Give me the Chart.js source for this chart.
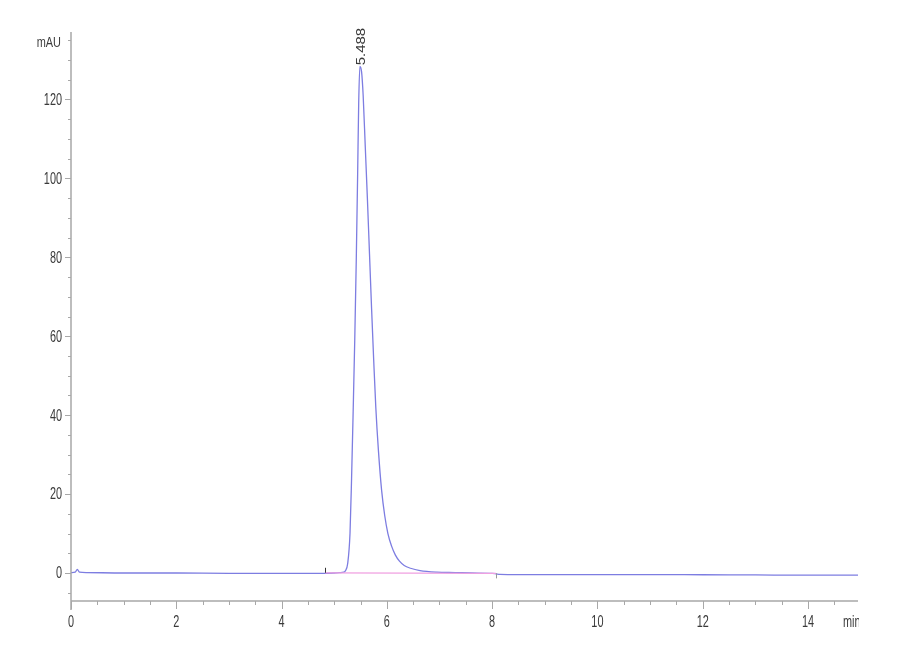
<!DOCTYPE html>
<html>
<head>
<meta charset="utf-8">
<script src="https://cdn.jsdelivr.net/npm/chart.js@4.4.1/dist/chart.umd.min.js"></script>
<style>
  html, body { margin: 0; padding: 0; background: #fff; }
  canvas { display: block; }
</style>
</head>
<body>
<canvas id="chrom" width="900" height="660"></canvas>
<script>
// retention time (min) and signal (mAU)
const times = [0.0, 0.08, 0.12, 0.16, 0.3, 1.0, 2.0, 3.0, 4.0, 4.8, 5.0, 5.1, 5.18, 5.21, 5.256,
    5.30, 5.33, 5.36, 5.39, 5.42, 5.445, 5.465, 5.488, 5.52, 5.55, 5.59, 5.63, 5.67, 5.71,
    5.75, 5.79, 5.84, 5.90, 5.96, 6.02, 6.09, 6.16, 6.24, 6.33, 6.45, 6.63, 6.95, 7.3, 7.6,
    8.0, 8.07, 8.15, 8.5, 9.0, 10.0, 11.0, 12.0, 13.0, 14.0, 14.95];
const signal = [0.1, 0.2, 0.9, 0.2, 0.1, 0.0, 0.0, -0.1, -0.1, -0.1, 0.0, 0.1, 0.2, 0.5, 2.4,
    10, 24, 41, 59, 80, 101, 119, 128.4, 127, 121, 108, 95, 81, 67,
    54, 42, 31, 21, 14.5, 10, 6.8, 4.6, 3.0, 1.9, 1.2, 0.6, 0.2, 0.1, 0.0,
    -0.1, -0.2, -0.35, -0.4, -0.4, -0.4, -0.4, -0.45, -0.5, -0.55, -0.55];

// integration baseline drawn under the peak
const baseTimes = [4.83, 8.07];
const baseValues = [0.05, -0.1];

// peak annotation
const peakTime = 5.488;
const peakHeight = 128.4;
const peakLabel = '5.488';

// axis ticks
const xTicks = [0, 2, 4, 6, 8, 10, 12, 14];
const yTicks = [0, 20, 40, 60, 80, 100, 120];
const xMinorStep = 0.5;
const yMinorStep = 5;

const traceData = times.map((t, i) => ({ x: t, y: signal[i] }));
const baseData = baseTimes.map((t, i) => ({ x: t, y: baseValues[i] }));

function squeezedText(ctx, text, x, y, align, sx) {
    ctx.save();
    ctx.translate(x, y);
    ctx.scale(sx, 1);
    ctx.textAlign = align;
    ctx.fillText(text, 0, 0);
    ctx.restore();
}

// draws the axes, ticks and labels the instrument software way
const axesPlugin = {
    id: 'axesPlugin',
    afterDraw(chart) {
        const ctx = chart.ctx;
        const area = chart.chartArea;
        const xs = chart.scales.x;
        const ys = chart.scales.y;

        ctx.save();
        ctx.strokeStyle = '#a8a8a8';
        ctx.lineWidth = 1.5;
        ctx.beginPath();
        ctx.moveTo(area.left, area.top);
        ctx.lineTo(area.left, area.bottom + 9);
        ctx.moveTo(area.left, area.bottom);
        ctx.lineTo(area.right, area.bottom);
        ctx.stroke();

        // x ticks
        ctx.lineWidth = 1;
        ctx.beginPath();
        for (let v = 0; v <= xs.max + 1e-6; v += xMinorStep) {
            const px = Math.round(xs.getPixelForValue(v)) + 0.5;
            const major = xTicks.includes(v);
            ctx.moveTo(px, area.bottom);
            ctx.lineTo(px, area.bottom + (major ? 8 : 4));
        }
        // y ticks
        for (let v = Math.ceil(ys.min / yMinorStep) * yMinorStep; v <= ys.max; v += yMinorStep) {
            const py = Math.round(ys.getPixelForValue(v)) + 0.5;
            const major = yTicks.includes(v);
            ctx.moveTo(area.left, py);
            ctx.lineTo(area.left - (major ? 6 : 3), py);
        }
        ctx.stroke();

        // peak start / end markers
        ctx.strokeStyle = '#333';
        ctx.beginPath();
        let px = Math.round(xs.getPixelForValue(baseTimes[0])) + 0.5;
        let py = ys.getPixelForValue(baseValues[0]);
        ctx.moveTo(px, py);
        ctx.lineTo(px, py - 5);
        ctx.stroke();
        ctx.strokeStyle = '#999';
        ctx.beginPath();
        px = Math.round(xs.getPixelForValue(baseTimes[1])) + 0.5;
        py = ys.getPixelForValue(baseValues[1]);
        ctx.moveTo(px, py);
        ctx.lineTo(px, py + 5);
        ctx.stroke();

        // labels
        ctx.fillStyle = '#3a3a3a';
        ctx.font = '16px "Liberation Sans", Arial, sans-serif';
        ctx.textBaseline = 'middle';
        yTicks.forEach(v => {
            squeezedText(ctx, String(v), area.left - 9, ys.getPixelForValue(v) + 1, 'right', 0.68);
        });
        ctx.textBaseline = 'alphabetic';
        xTicks.forEach(v => {
            squeezedText(ctx, String(v), xs.getPixelForValue(v), area.bottom + 26, 'center', 0.68);
        });

        // unit labels
        ctx.save();
        ctx.beginPath();
        ctx.rect(0, 0, area.right + 1, chart.height);
        ctx.clip();
        squeezedText(ctx, 'min', area.right - 15, area.bottom + 26, 'left', 0.68);
        ctx.restore();
        ctx.font = '14px "Liberation Sans", Arial, sans-serif';
        squeezedText(ctx, 'mAU', area.left - 10, area.top + 15, 'right', 0.78);

        // peak retention time, rotated
        ctx.font = '15px "Liberation Sans", Arial, sans-serif';
        ctx.save();
        ctx.translate(xs.getPixelForValue(peakTime) + 5, ys.getPixelForValue(peakHeight) - 1);
        ctx.scale(0.85, 1);
        ctx.rotate(-Math.PI / 2);
        ctx.textAlign = 'left';
        ctx.fillText(peakLabel, 0, 0);
        ctx.restore();

        ctx.restore();
    }
};

const ctxChrom = document.getElementById('chrom').getContext('2d');
const chromChart = new Chart(ctxChrom, {
    type: 'scatter',
    data: {
        datasets: [
            {
                label: 'Signal',
                data: traceData,
                showLine: true,
                borderColor: 'rgb(125, 125, 225)',
                borderWidth: 1.3,
                pointRadius: 0,
                cubicInterpolationMode: 'monotone',
                order: 2,
            },
            {
                label: 'Baseline',
                data: baseData,
                showLine: true,
                borderColor: 'rgb(240, 160, 225)',
                borderWidth: 1.3,
                pointRadius: 0,
                order: 1,
            },
        ],
    },
    options: {
        responsive: false,
        animation: false,
        devicePixelRatio: 1,
        layout: { padding: { left: 71, right: 42, top: 32, bottom: 59 } },
        plugins: {
            legend: { display: false },
            tooltip: { enabled: false },
        },
        scales: {
            x: { type: 'linear', min: 0, max: 14.95, display: false },
            y: { type: 'linear', min: -7.1, max: 137.1, display: false },
        },
    },
    plugins: [axesPlugin],
});
</script>
</body>
</html>
